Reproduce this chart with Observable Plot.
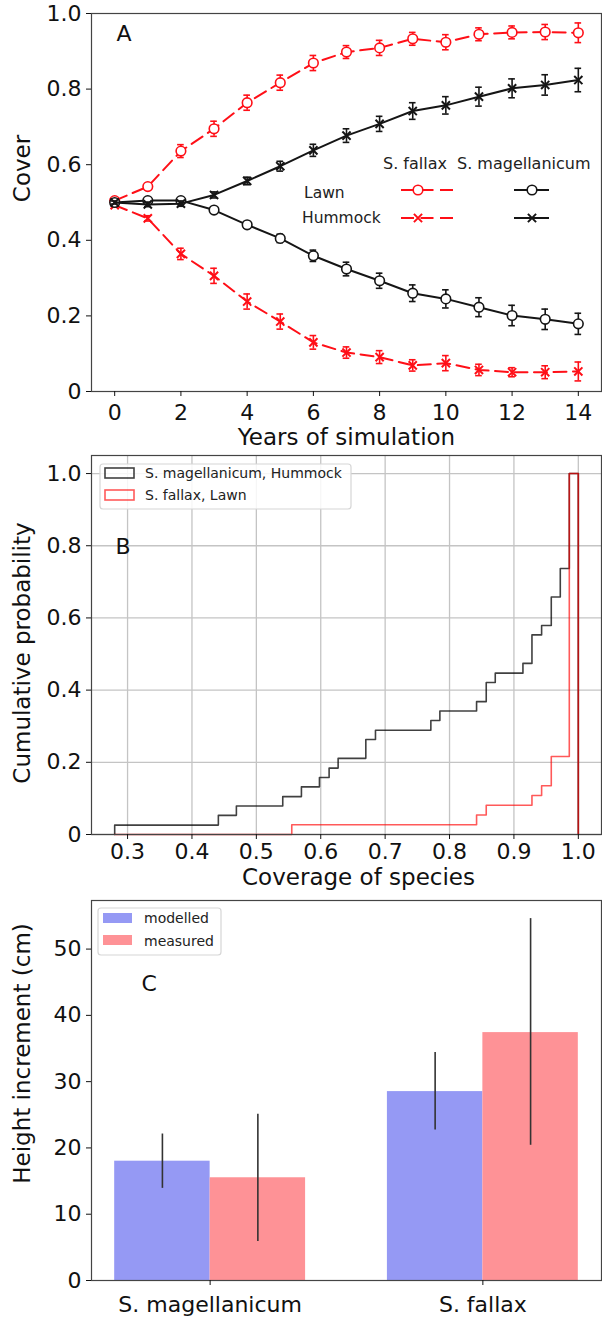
<!DOCTYPE html>
<html><head><meta charset="utf-8">
<script src="https://cdn.jsdelivr.net/npm/d3@7"></script>
<script src="https://cdn.jsdelivr.net/npm/@observablehq/plot@0.6"></script>
<style>
body{margin:0;background:#fff;}
#chart{width:602px;}
#chart svg{display:block;}
</style></head><body><div id="chart"></div>
<script>
// ---------- Panel A data ----------
const years = [0,1,2,3,4,5,6,7,8,9,10,11,12,13,14];
const fallaxLawn       = [0.505,0.542,0.636,0.695,0.764,0.817,0.869,0.898,0.909,0.933,0.924,0.945,0.950,0.951,0.949];
const fallaxLawnErr    = [0.004,0.008,0.017,0.020,0.020,0.020,0.020,0.017,0.020,0.017,0.020,0.017,0.017,0.020,0.026];
const magHummock       = [0.500,0.495,0.497,0.520,0.557,0.596,0.638,0.677,0.708,0.742,0.757,0.780,0.802,0.811,0.824];
const magHummockErr    = [0.004,0.006,0.007,0.008,0.010,0.013,0.016,0.018,0.020,0.022,0.023,0.025,0.025,0.027,0.031];
const magLawn          = [0.500,0.505,0.505,0.480,0.441,0.405,0.359,0.324,0.293,0.260,0.245,0.223,0.201,0.191,0.179];
const magLawnErr       = [0.004,0.004,0.004,0.005,0.007,0.011,0.015,0.018,0.020,0.022,0.024,0.025,0.027,0.027,0.028];
const fallaxHummock    = [0.493,0.458,0.364,0.306,0.238,0.185,0.130,0.103,0.091,0.069,0.075,0.057,0.051,0.051,0.053];
const fallaxHummockErr = [0.004,0.007,0.015,0.020,0.020,0.020,0.018,0.015,0.017,0.015,0.020,0.015,0.012,0.017,0.025];
const xTicksA = [0,2,4,6,8,10,12,14];
const yTicksA = [0,0.2,0.4,0.6,0.8,1.0];

// ---------- Panel B data (cumulative step histograms) ----------
const magStepX = [0.28,0.28,0.441,0.469,0.541,0.570,0.598,0.613,0.627,0.670,0.685,0.771,0.785,0.842,0.857,0.871,0.914,0.928,0.943,0.958,0.972,0.986,1.0];
const magStepY = [0,0.026,0.053,0.079,0.105,0.132,0.158,0.184,0.211,0.263,0.289,0.316,0.342,0.368,0.421,0.447,0.474,0.553,0.579,0.658,0.737,1.0,0];
const fallaxStepX = [0.28,0.555,0.842,0.857,0.928,0.943,0.958,0.986,1.0];
const fallaxStepY = [0,0.027,0.054,0.081,0.108,0.135,0.216,1.0,0];
const xTicksB = [0.3,0.4,0.5,0.6,0.7,0.8,0.9,1.0];
const yTicksB = [0,0.2,0.4,0.6,0.8,1.0];

// ---------- Panel C data ----------
const species = ["S. magellanicum","S. fallax"];
const modelled = [18.0, 28.5];
const modelledLo = [13.9, 22.7];
const modelledHi = [22.1, 34.4];
const measured = [15.5, 37.4];
const measuredLo = [5.9, 20.4];
const measuredHi = [25.1, 54.6];
const yTicksC = [0,10,20,30,40,50];

const FONT = "'DejaVu Sans', sans-serif";
const RED = "#ff0f17";
const BLACK = "#151515";
const fmt1 = d => d === 0 ? "0" : d.toFixed(1);
const container = document.getElementById("chart");

// ================= Panel A =================
const seriesA = [
  {vals: fallaxLawn, err: fallaxLawnErr, color: RED, dash: "13,6.5", sym: "circle"},
  {vals: fallaxHummock, err: fallaxHummockErr, color: RED, dash: "13,6.5", sym: "times"},
  {vals: magLawn, err: magLawnErr, color: BLACK, dash: null, sym: "circle"},
  {vals: magHummock, err: magHummockErr, color: BLACK, dash: null, sym: "times"}
];
const marksA = [];
for (const s of seriesA) {
  const rows = years.map((yr, i) => ({year: yr, v: s.vals[i], e: s.err[i]}));
  marksA.push(Plot.line(rows, {x: "year", y: "v", stroke: s.color, strokeWidth: 2, strokeDasharray: s.dash}));
  marksA.push(Plot.ruleX(rows, {x: "year", y1: d => d.v - d.e, y2: d => d.v + d.e, stroke: s.color, strokeWidth: 1.6}));
  marksA.push(Plot.ruleY(rows, {y: d => d.v + d.e, x1: d => d.year - 0.1, x2: d => d.year + 0.1, stroke: s.color, strokeWidth: 1.6}));
  marksA.push(Plot.ruleY(rows, {y: d => d.v - d.e, x1: d => d.year - 0.1, x2: d => d.year + 0.1, stroke: s.color, strokeWidth: 1.6}));
  if (s.sym === "circle") {
    marksA.push(Plot.dot(rows, {x: "year", y: "v", r: 4.8, fill: "white", stroke: s.color, strokeWidth: 1.6}));
  } else {
    marksA.push(Plot.dot(rows, {x: "year", y: "v", r: 3.8, symbol: "times", stroke: s.color, strokeWidth: 2}));
  }
}
const plotA = Plot.plot({
  width: 602, height: 450,
  marginTop: 13, marginBottom: 59, marginLeft: 91, marginRight: 1,
  style: {fontFamily: FONT, fontSize: "22px", color: "#111", background: "white"},
  x: {domain: [-0.7, 14.7]},
  y: {domain: [0, 1]},
  marks: [
    ...marksA,
    Plot.frame({stroke: "#444", strokeWidth: 1.2}),
    Plot.axisX({ticks: xTicksA, tickSize: 5, tickPadding: 8, label: null, tickFormat: d => String(d)}),
    Plot.axisY({ticks: yTicksA, tickSize: 5, tickPadding: 5, label: null, tickFormat: fmt1}),
    Plot.text(["A"], {frameAnchor: "top-left", dx: 25, dy: 12, lineAnchor: "top", textAnchor: "start", fontSize: 22}),
    Plot.text(["Years of simulation"], {frameAnchor: "bottom", dy: 37, lineAnchor: "top", textAnchor: "middle", fontSize: 23}),
    Plot.text(["Cover"], {frameAnchor: "left", dx: -69, dy: -34, rotate: -90, textAnchor: "middle", lineAnchor: "middle", fontSize: 23})
  ]
});
container.appendChild(plotA);
{
  const g = d3.select(plotA).append("g").attr("font-family", FONT).attr("fill", "#222").attr("text-anchor", "start");
  g.append("text").attr("x", 383).attr("y", 169).attr("font-size", 16).text("S. fallax");
  g.append("text").attr("x", 457).attr("y", 169).attr("font-size", 16).text("S. magellanicum");
  g.append("text").attr("x", 304).attr("y", 198).attr("font-size", 15.5).text("Lawn");
  g.append("text").attr("x", 302).attr("y", 223).attr("font-size", 15.5).text("Hummock");
  const rowsY = [190, 218];
  rowsY.forEach((yy, k) => {
    g.append("line").attr("x1", 401).attr("x2", 453).attr("y1", yy).attr("y2", yy)
      .attr("stroke", RED).attr("stroke-width", 2).attr("stroke-dasharray", "13,6.5");
    g.append("line").attr("x1", 514).attr("x2", 549).attr("y1", yy).attr("y2", yy)
      .attr("stroke", BLACK).attr("stroke-width", 2);
    [[418, RED], [532, BLACK]].forEach(([xx, c]) => {
      if (k === 0) {
        g.append("circle").attr("cx", xx).attr("cy", yy).attr("r", 4.8).attr("fill", "white").attr("stroke", c).attr("stroke-width", 1.6);
      } else {
        g.append("path").attr("transform", `translate(${xx},${yy})`)
          .attr("d", d3.symbol(d3.symbolTimes, Math.PI * 3.8 * 3.8)())
          .attr("fill", "none").attr("stroke", c).attr("stroke-width", 2);
      }
    });
  });
}

// ================= Panel B =================
const rowsMag = magStepX.map((x, i) => ({x, y: magStepY[i]}));
const rowsFal = fallaxStepX.map((x, i) => ({x, y: fallaxStepY[i]}));
const plotB = Plot.plot({
  width: 602, height: 445,
  marginTop: 5, marginBottom: 61, marginLeft: 91, marginRight: 1,
  style: {fontFamily: FONT, fontSize: "22px", color: "#111", background: "white"},
  x: {domain: [0.244, 1.036]},
  y: {domain: [0, 1.05]},
  marks: [
    Plot.gridX({ticks: xTicksB, stroke: "#c4c4c4", strokeOpacity: 1, strokeWidth: 1.3}),
    Plot.gridY({ticks: yTicksB, stroke: "#c4c4c4", strokeOpacity: 1, strokeWidth: 1.3}),
    Plot.line(rowsMag, {x: "x", y: "y", curve: "step-after", stroke: "#000", strokeOpacity: 0.75, strokeWidth: 1.6}),
    Plot.line(rowsFal, {x: "x", y: "y", curve: "step-after", stroke: "#ff0000", strokeOpacity: 0.65, strokeWidth: 1.6}),
    Plot.frame({stroke: "#444", strokeWidth: 1.2}),
    Plot.axisX({ticks: xTicksB, tickSize: 5, tickPadding: 4, label: null, tickFormat: d => d.toFixed(1)}),
    Plot.axisY({ticks: yTicksB, tickSize: 5, tickPadding: 5, label: null, tickFormat: fmt1}),
    Plot.text(["B"], {frameAnchor: "top-left", dx: 24, dy: 83, lineAnchor: "top", textAnchor: "start", fontSize: 22}),
    Plot.text(["Coverage of species"], {frameAnchor: "bottom", dx: 12, dy: 34, lineAnchor: "top", textAnchor: "middle", fontSize: 23}),
    Plot.text(["Cumulative probability"], {frameAnchor: "left", dx: -69, dy: 8, rotate: -90, textAnchor: "middle", lineAnchor: "middle", fontSize: 23})
  ]
});
container.appendChild(plotB);
{
  const g = d3.select(plotB).append("g").attr("font-family", FONT).attr("text-anchor", "start");
  const oy = -450; // panel B svg starts at page y=450
  g.append("rect").attr("x", 100).attr("y", 464 + oy).attr("width", 251).attr("height", 45).attr("rx", 3)
    .attr("fill", "white").attr("fill-opacity", 0.85).attr("stroke", "#d6d6d6").attr("stroke-width", 1.2);
  g.append("rect").attr("x", 105).attr("y", 468 + oy).attr("width", 29).attr("height", 10)
    .attr("fill", "none").attr("stroke", "#000").attr("stroke-opacity", 0.75).attr("stroke-width", 1.6);
  g.append("rect").attr("x", 105).attr("y", 490 + oy).attr("width", 29).attr("height", 10)
    .attr("fill", "none").attr("stroke", "#ff0000").attr("stroke-opacity", 0.65).attr("stroke-width", 1.6);
  g.append("text").attr("x", 145).attr("y", 478 + oy).attr("font-size", 14).attr("fill", "#222").text("S. magellanicum, Hummock");
  g.append("text").attr("x", 145).attr("y", 500 + oy).attr("font-size", 14).attr("fill", "#222").text("S. fallax, Lawn");
}

// ================= Panel C =================
const BAR_W = 0.35;
const rowsC = species.flatMap((s, i) => [
  {i, series: "modelled", v: modelled[i], lo: modelledLo[i], hi: modelledHi[i]},
  {i, series: "measured", v: measured[i], lo: measuredLo[i], hi: measuredHi[i]}
]);
const off = d => d.series === "modelled" ? -1 : 0;
const plotC = Plot.plot({
  width: 602, height: 424,
  marginTop: 5, marginBottom: 39, marginLeft: 91, marginRight: 1,
  style: {fontFamily: FONT, fontSize: "22px", color: "#111", background: "white"},
  x: {domain: [-0.435, 1.435]},
  y: {domain: [0, 57.33]},
  color: {domain: ["modelled", "measured"], range: ["#9599f4", "#fe9296"]},
  marks: [
    Plot.rectY(rowsC, {x1: d => d.i + off(d) * BAR_W, x2: d => d.i + (off(d) + 1) * BAR_W, y: "v", fill: "series"}),
    Plot.ruleX(rowsC, {x: d => d.i + (off(d) + 0.5) * BAR_W, y1: "lo", y2: "hi", stroke: "#333", strokeWidth: 1.6}),
    Plot.frame({stroke: "#444", strokeWidth: 1.2}),
    Plot.axisX({ticks: [0, 1], tickSize: 5, tickPadding: 11, label: null, tickFormat: i => species[i]}),
    Plot.axisY({ticks: yTicksC, tickSize: 5, tickPadding: 5, label: null, tickFormat: d => String(d)}),
    Plot.text(["C"], {frameAnchor: "top-left", dx: 50, dy: 75, lineAnchor: "top", textAnchor: "start", fontSize: 22}),
    Plot.text(["Height increment (cm)"], {frameAnchor: "left", dx: -69, dy: -37, rotate: -90, textAnchor: "middle", lineAnchor: "middle", fontSize: 23})
  ]
});
container.appendChild(plotC);
{
  const g = d3.select(plotC).append("g").attr("font-family", FONT).attr("text-anchor", "start");
  const oy = -895;
  g.append("rect").attr("x", 98).attr("y", 908 + oy).attr("width", 123).attr("height", 47).attr("rx", 3)
    .attr("fill", "white").attr("fill-opacity", 0.85).attr("stroke", "#d6d6d6").attr("stroke-width", 1.2);
  g.append("rect").attr("x", 103).attr("y", 913 + oy).attr("width", 29).attr("height", 10).attr("fill", "#9599f4");
  g.append("rect").attr("x", 103).attr("y", 935 + oy).attr("width", 29).attr("height", 10).attr("fill", "#fe9296");
  g.append("text").attr("x", 144).attr("y", 923 + oy).attr("font-size", 14).attr("fill", "#222").text("modelled");
  g.append("text").attr("x", 144).attr("y", 946 + oy).attr("font-size", 14).attr("fill", "#222").text("measured");
}
</script></body></html>
